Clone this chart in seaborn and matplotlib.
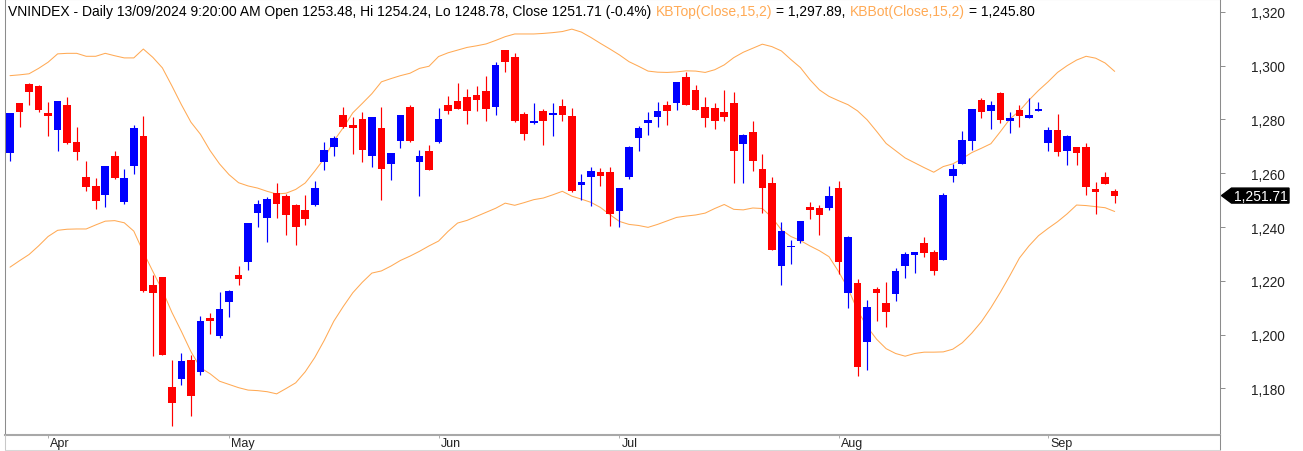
import numpy as np
import pandas as pd
import matplotlib
matplotlib.use("Agg")
import matplotlib.pyplot as plt
import seaborn as sns
from matplotlib.transforms import blended_transform_factory
from matplotlib.lines import Line2D
from matplotlib.patches import Polygon

# daily candles, 26/03/2024 .. 13/09/2024 (one per trading session)
opens = [1267.6, 1286.1, 1293.2, 1292.6, 1282.4, 1276.1, 1285.4, 1271.8, 1258.5, 1255.4,
         1252.1, 1266.3, 1249.5, 1262.6, 1274.0, 1218.5, 1221.3, 1180.7, 1183.6, 1190.6,
         1186.0, 1206.1, 1199.4, 1212.1, 1222.3, 1226.9, 1245.3, 1243.4, 1252.6, 1251.7,
         1248.2, 1246.4, 1248.2, 1264.3, 1269.9, 1281.7, 1278.0, 1280.2, 1266.6, 1276.7,
         1263.5, 1271.9, 1284.5, 1264.3, 1268.3, 1271.5, 1285.4, 1287.0, 1288.2, 1289.2,
         1290.7, 1284.8, 1305.8, 1303.1, 1282.0, 1278.8, 1283.3, 1281.7, 1284.9, 1281.2,
         1255.6, 1258.5, 1260.6, 1260.4, 1246.1, 1258.5, 1273.0, 1278.7, 1281.1, 1285.4,
         1286.0, 1295.7, 1291.1, 1284.5, 1284.2, 1282.7, 1286.1, 1270.9, 1275.2, 1261.6,
         1256.4, 1225.4, 1232.5, 1235.0, 1247.4, 1247.0, 1247.1, 1254.6, 1215.4, 1219.1,
         1197.2, 1217.0, 1211.8, 1215.1, 1225.7, 1229.6, 1234.0, 1230.6, 1227.9, 1258.9,
         1263.5, 1271.9, 1287.4, 1283.0, 1289.7, 1279.5, 1283.5, 1280.6, 1283.2, 1271.1,
         1276.2, 1268.2, 1269.7, 1269.9, 1254.2, 1258.5, 1253.48]
highs = [1282.6, 1286.2, 1293.6, 1292.7, 1286.6, 1287.0, 1288.5, 1277.1, 1264.7, 1258.1,
         1262.7, 1268.3, 1261.6, 1278.0, 1281.2, 1222.2, 1221.4, 1190.4, 1193.1, 1192.5,
         1207.1, 1208.1, 1216.0, 1216.5, 1225.4, 1241.5, 1250.1, 1251.3, 1256.3, 1252.3,
         1248.6, 1252.0, 1257.3, 1271.5, 1274.0, 1284.5, 1280.8, 1282.7, 1280.9, 1284.5,
         1267.5, 1281.8, 1285.4, 1268.8, 1270.5, 1284.3, 1288.9, 1293.6, 1291.3, 1292.6,
         1296.0, 1301.3, 1305.9, 1304.7, 1282.7, 1286.1, 1283.9, 1286.1, 1287.6, 1284.3,
         1259.7, 1262.5, 1261.8, 1262.5, 1254.6, 1270.3, 1277.7, 1282.7, 1286.4, 1287.0,
         1294.0, 1297.8, 1293.0, 1288.5, 1286.1, 1291.0, 1290.4, 1274.5, 1279.6, 1267.2,
         1258.5, 1241.8, 1235.2, 1242.3, 1249.2, 1248.2, 1255.4, 1257.3, 1236.6, 1220.7,
         1213.0, 1217.6, 1219.5, 1224.7, 1230.9, 1230.9, 1236.2, 1231.3, 1252.7, 1263.5,
         1275.9, 1284.0, 1287.9, 1286.8, 1290.1, 1282.7, 1285.5, 1287.9, 1286.6, 1277.1,
         1282.0, 1274.1, 1269.8, 1271.3, 1256.6, 1260.4, 1254.24]
lows = [1264.7, 1277.1, 1285.5, 1282.7, 1274.0, 1268.4, 1271.0, 1265.1, 1253.6, 1246.7,
        1247.6, 1258.0, 1248.4, 1259.8, 1215.9, 1192.0, 1192.5, 1166.2, 1181.3, 1169.7,
        1185.0, 1200.3, 1198.7, 1206.5, 1218.5, 1224.1, 1239.9, 1234.6, 1243.4, 1237.2,
        1233.5, 1240.8, 1248.0, 1261.2, 1266.6, 1277.0, 1267.2, 1264.3, 1262.2, 1250.2,
        1257.5, 1269.4, 1271.8, 1251.7, 1261.1, 1271.4, 1282.0, 1283.8, 1278.3, 1283.3,
        1279.6, 1281.7, 1297.5, 1279.2, 1272.5, 1278.3, 1270.5, 1273.7, 1279.6, 1252.9,
        1250.2, 1247.7, 1255.2, 1240.5, 1240.2, 1257.9, 1268.4, 1274.4, 1277.1, 1278.0,
        1283.7, 1285.4, 1283.6, 1277.1, 1276.5, 1279.6, 1256.4, 1256.4, 1261.0, 1245.3,
        1231.5, 1218.6, 1226.3, 1234.0, 1243.0, 1237.1, 1246.5, 1222.6, 1209.8, 1184.8,
        1187.0, 1205.2, 1202.8, 1212.4, 1221.1, 1223.0, 1229.0, 1222.2, 1227.8, 1256.7,
        1263.4, 1268.8, 1280.6, 1276.5, 1278.7, 1275.0, 1277.1, 1280.5, 1283.1, 1268.4,
        1266.3, 1263.1, 1263.1, 1252.1, 1244.9, 1255.9, 1248.78]
closes = [1282.4, 1282.9, 1290.1, 1283.7, 1281.4, 1286.9, 1271.2, 1268.1, 1254.8, 1249.8,
          1262.6, 1258.3, 1258.1, 1276.7, 1216.1, 1215.4, 1192.6, 1174.5, 1190.1, 1177.1,
          1205.2, 1204.9, 1209.6, 1216.4, 1220.7, 1241.4, 1248.5, 1250.5, 1248.4, 1244.6,
          1239.9, 1243.0, 1254.4, 1268.7, 1273.3, 1277.1, 1276.7, 1268.8, 1280.8, 1261.6,
          1267.4, 1281.7, 1272.1, 1266.6, 1261.2, 1280.2, 1283.3, 1283.9, 1283.3, 1287.4,
          1283.9, 1300.3, 1301.3, 1279.3, 1274.6, 1279.4, 1279.6, 1282.4, 1281.7, 1253.5,
          1256.6, 1261.0, 1258.9, 1244.9, 1254.5, 1269.9, 1276.8, 1279.8, 1283.0, 1283.3,
          1293.8, 1285.5, 1283.7, 1280.6, 1279.6, 1281.1, 1268.4, 1274.4, 1264.7, 1254.6,
          1231.6, 1238.4, 1233.1, 1242.2, 1246.5, 1244.6, 1251.7, 1226.9, 1236.5, 1187.9,
          1210.4, 1215.4, 1208.3, 1223.8, 1230.0, 1230.6, 1230.3, 1223.5, 1252.1, 1261.6,
          1272.5, 1283.9, 1282.7, 1285.4, 1279.8, 1280.6, 1281.4, 1281.6, 1283.8, 1276.1,
          1268.0, 1274.0, 1267.4, 1254.8, 1253.0, 1256.0, 1251.71]

# KBTop / KBBot (Close,15,2) band values read per session
kb_top = [1296.3, 1296.6, 1297.0, 1299.0, 1301.3, 1304.4, 1304.6, 1304.6, 1303.5, 1303.5,
          1304.6, 1303.7, 1302.9, 1302.9, 1306.2, 1303.1, 1299.2, 1292.5, 1285.5, 1279.0,
          1274.5, 1268.5, 1263.5, 1259.5, 1256.5, 1255.3, 1254.5, 1253.3, 1252.3, 1252.6,
          1254.0, 1256.4, 1260.8, 1265.5, 1272.0, 1277.0, 1282.5, 1286.0, 1289.6, 1294.0,
          1295.2, 1296.3, 1297.2, 1299.0, 1299.8, 1303.4, 1304.8, 1305.8, 1306.8, 1307.4,
          1308.1, 1309.4, 1310.8, 1311.8, 1311.8, 1311.8, 1312.0, 1312.3, 1312.7, 1313.6,
          1312.5, 1310.5, 1308.3, 1306.2, 1304.0, 1301.5, 1299.8, 1298.0, 1297.6, 1297.5,
          1297.7, 1298.1, 1298.0, 1297.5, 1298.5, 1300.3, 1303.0, 1305.0, 1306.5, 1308.0,
          1307.1, 1305.5, 1302.3, 1299.3, 1294.8, 1291.0, 1288.6, 1287.0, 1285.5, 1283.2,
          1279.9, 1275.6, 1271.1, 1268.4, 1265.7, 1263.9, 1262.1, 1260.4, 1262.5, 1263.5,
          1265.5, 1267.7, 1269.3, 1271.0, 1275.5, 1280.2, 1283.2, 1287.2, 1290.8, 1294.0,
          1297.5, 1300.0, 1302.1, 1303.5, 1302.8, 1301.0, 1297.89]
kb_bot = [1225.1, 1227.5, 1229.8, 1233.0, 1236.5, 1238.8, 1239.2, 1239.3, 1239.3, 1240.8,
          1242.2, 1242.4, 1241.6, 1238.5, 1230.7, 1223.5, 1216.5, 1208.3, 1201.2, 1193.7,
          1187.7, 1185.5, 1182.7, 1181.5, 1180.3, 1179.4, 1179.2, 1178.8, 1178.0, 1180.0,
          1182.1, 1186.2, 1191.5, 1197.9, 1205.0, 1210.5, 1215.6, 1219.5, 1222.9, 1223.7,
          1225.5, 1227.6, 1229.2, 1231.0, 1233.0, 1234.8, 1238.4, 1241.5, 1242.5, 1244.0,
          1245.5, 1247.0, 1248.9, 1248.1, 1249.1, 1250.2, 1250.8, 1252.0, 1253.3, 1251.5,
          1250.4, 1249.2, 1247.3, 1244.6, 1242.1, 1241.0, 1240.6, 1239.9, 1241.0, 1242.3,
          1243.6, 1244.1, 1244.5, 1245.2, 1246.9, 1248.4, 1246.6, 1246.4, 1247.1, 1246.9,
          1243.6, 1239.0, 1236.5, 1235.0, 1233.0, 1231.2, 1229.0, 1223.5, 1217.2, 1209.0,
          1203.0, 1198.3, 1194.8, 1193.0, 1192.0, 1193.0, 1193.5, 1193.5, 1193.6, 1194.6,
          1197.0, 1200.6, 1204.8, 1210.0, 1215.8, 1222.0, 1228.5, 1233.0, 1236.8, 1239.5,
          1242.0, 1244.9, 1248.2, 1248.0, 1247.6, 1247.2, 1245.80]

month_labels = ["Apr", "May", "Jun", "Jul", "Aug", "Sep"]
month_starts = [4, 23, 45, 64, 87, 109]   # session index of first day of month
price_ticks = [1180, 1200, 1220, 1240, 1260, 1280, 1300, 1320]

header_parts = [
    ("VNINDEX - Daily 13/09/2024 9:20:00 AM Open 1253.48, Hi 1254.24, Lo 1248.78, Close 1251.71 (-0.4%)", "black"),
    ("KBTop(Close,15,2)", "band"),
    ("= 1,297.89,", "black"),
    ("KBBot(Close,15,2)", "band"),
    ("= 1,245.80", "black"),
]

UP = "#0000FF"
DOWN = "#FF0000"
BAND = "#FFAA55"
FRAME = "#8C8C8C"

sns.set_style("white")
plt.rcParams["font.family"] = ["Liberation Sans", "DejaVu Sans"]

df = pd.DataFrame({"open": opens, "high": highs, "low": lows, "close": closes,
                   "top": kb_top, "bot": kb_bot})
df["i"] = np.arange(len(df))
col = np.where(df["close"] >= df["open"], UP, DOWN)

W, H = 1303, 452
fig = plt.figure(figsize=(W / 100, H / 100), dpi=100)
ax = fig.add_axes([5 / W, 16 / H, 1215 / W, 436 / H])

# bands
sns.lineplot(x=df["i"], y=df["top"], color=BAND, linewidth=0.75, ax=ax)
sns.lineplot(x=df["i"], y=df["bot"], color=BAND, linewidth=0.75, ax=ax)

# candles
ax.vlines(df["i"], df["low"], df["high"], colors=col, linewidth=0.85, zorder=3)
body_lo = np.minimum(df["open"], df["close"])
body_h = np.maximum((df["close"] - df["open"]).abs(), 0.6)
ax.bar(df["i"], body_h, bottom=body_lo, width=0.8, color=col, linewidth=0, zorder=4)

ax.set_xlim(-0.525, 127.06)
ax.set_ylim(1162.7, 1324.8)
ax.set_xlabel("")
ax.set_ylabel("")

# right price axis
ax.yaxis.tick_right()
ax.set_yticks(price_ticks)
ax.set_yticklabels([f"{v:,}" for v in price_ticks])
ax.tick_params(axis="y", which="major", direction="out", length=3.6, width=0.7,
               color=FRAME, pad=18.5, labelsize=9.8, labelcolor="#222222", right=True, left=False)

# month ticks on the bottom axis
ax.set_xticks(month_starts)
ax.set_xticklabels([])
ax.tick_params(axis="x", direction="out", length=2.2, width=0.6, color="#A0A0A0", bottom=True)
lab_tr = blended_transform_factory(ax.transData, ax.transAxes)
for idx, name in zip(month_starts, month_labels):
    ax.annotate(name, xy=(idx, 0), xycoords=lab_tr, xytext=(2, -2.5),
                textcoords="offset pixels", ha="left", va="top", fontsize=9,
                color="#222222", annotation_clip=False)

for side in ["left", "right", "top"]:
    ax.spines[side].set_visible(True)
    ax.spines[side].set_color(FRAME)
    ax.spines[side].set_linewidth(0.75)
ax.spines["bottom"].set_color("#A8A8A8")
ax.spines["bottom"].set_linewidth(1.5)

# frame below the month strip
fig.add_artist(Line2D([1220 / W, 1220 / W], [0, 16 / H], color=FRAME, linewidth=0.75))
fig.add_artist(Line2D([5 / W, 5 / W], [0, 16 / H], color="#C8C8C8", linewidth=0.75))
fig.add_artist(Line2D([5 / W, 1220 / W], [0.8 / H, 0.8 / H], color="#D8D8D8", linewidth=0.75))

# header line, pieces chained one after another
prev = None
for txt, c in header_parts:
    colr = BAND if c == "band" else c
    if prev is None:
        prev = fig.text(8 / W, 1 - 12 / H, txt, ha="left", va="center",
                        fontsize=10, color=colr)
    else:
        prev = ax.annotate(txt, xy=(1, 0), xycoords=prev, xytext=(4.2, 0),
                           textcoords="offset pixels", ha="left", va="bottom",
                           fontsize=10, color=colr, annotation_clip=False)

# last-price tag on the right axis
anchor = blended_transform_factory(ax.transAxes, ax.transData).transform((1.0, closes[-1]))
ax_x, ax_y = anchor
pts = [(1.5, 0), (11.5, 7.5), (69, 7.5), (69, -7.5), (11.5, -7.5)]
tag = Polygon([(ax_x + dx, ax_y + dy) for dx, dy in pts], closed=True,
              facecolor="black", edgecolor="black", transform=None, clip_on=False)
fig.add_artist(tag)
fig.text((ax_x + 41) / W, ax_y / H, f"{closes[-1]:,.2f}", ha="center", va="center",
         fontsize=10, color="white")

fig.savefig("out.png", dpi=100)
